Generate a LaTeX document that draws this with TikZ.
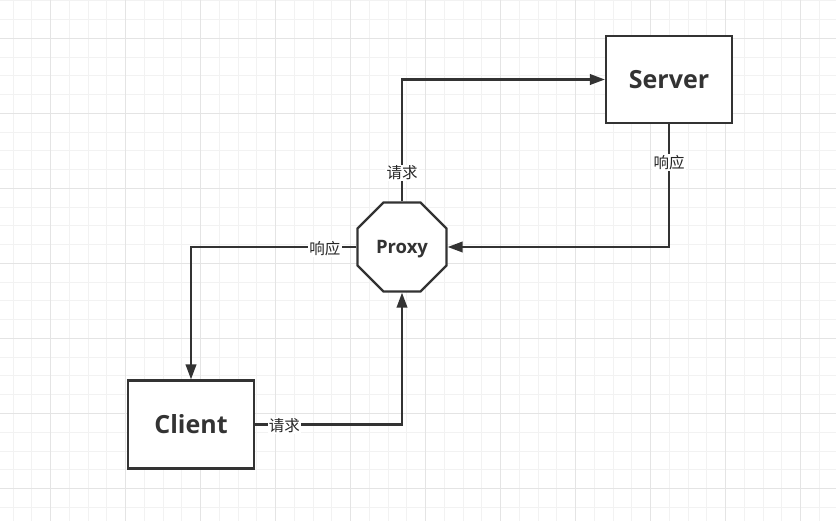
\documentclass[tikz,border=0pt]{standalone}
\usepackage{fontspec}
\setmainfont{Open Sans}
\newfontfamily\cjk{Noto Sans CJK SC}
\usetikzlibrary{shapes.geometric,arrows.meta}
\definecolor{ink}{HTML}{333333}
\definecolor{gminor}{HTML}{F2F2F2}
\definecolor{gmajor}{HTML}{E4E4E4}
\begin{document}
\begin{tikzpicture}[x=1pt,y=-1pt,
  box/.style={draw=ink, line width=2.2pt, fill=white, minimum width=126pt, minimum height=87pt, inner sep=0pt, text=ink, font=\bfseries\fontsize{25}{30}\selectfont},
  octo/.style={draw=ink, line width=2.2pt, fill=white, regular polygon, regular polygon sides=8, minimum size=96.5pt, inner sep=0pt, text=ink, font=\bfseries\fontsize{18.5}{22}\selectfont},
  conn/.style={draw=ink, line width=2.2pt, -{Triangle[length=15pt,width=10.5pt]}},
  lbl/.style={fill=white, inner sep=1.2pt, text=black!85, yshift=-1.5pt, font=\cjk\fontsize{15.5}{18}\selectfont}]
\useasboundingbox (0,0) rectangle (836,521);
\fill[white] (0,0) rectangle (836,521);
\foreach \i in {0,...,44} {\draw[gminor, line width=1pt] (13.2+18.75*\i,0) -- (13.2+18.75*\i,521);}
\foreach \j in {0,...,27} {\draw[gminor, line width=1pt] (0,1+18.75*\j) -- (836,1+18.75*\j);}
\foreach \i in {0,...,10} {\draw[gmajor, line width=1pt] (50.7+75*\i,0) -- (50.7+75*\i,521);}
\foreach \j in {0,...,6} {\draw[gmajor, line width=1pt] (0,38.5+75*\j) -- (836,38.5+75*\j);}

\node[box] (server) at (669,79.5) {Server};
\node[box, minimum height=88pt] (client) at (191,424.5) {Client};
\node[octo] (proxy) at (402,247) {\raisebox{-6.5pt}[0pt][0pt]{Proxy}};

\draw[conn] (proxy.north) -- node[lbl, pos=0.245] {请求} (proxy.north |- server.west) -- (server.west);
\draw[conn] (server.south) -- node[lbl, pos=0.30] {响应} (server.south |- proxy.east) -- (proxy.east);
\draw[conn] (proxy.west) -- node[lbl, pos=0.19] {响应} (proxy.west -| client.north) -- (client.north);
\draw[conn] (client.east) -- node[lbl, pos=0.2] {请求} (client.east -| proxy.south) -- (proxy.south);
\end{tikzpicture}
\end{document}
